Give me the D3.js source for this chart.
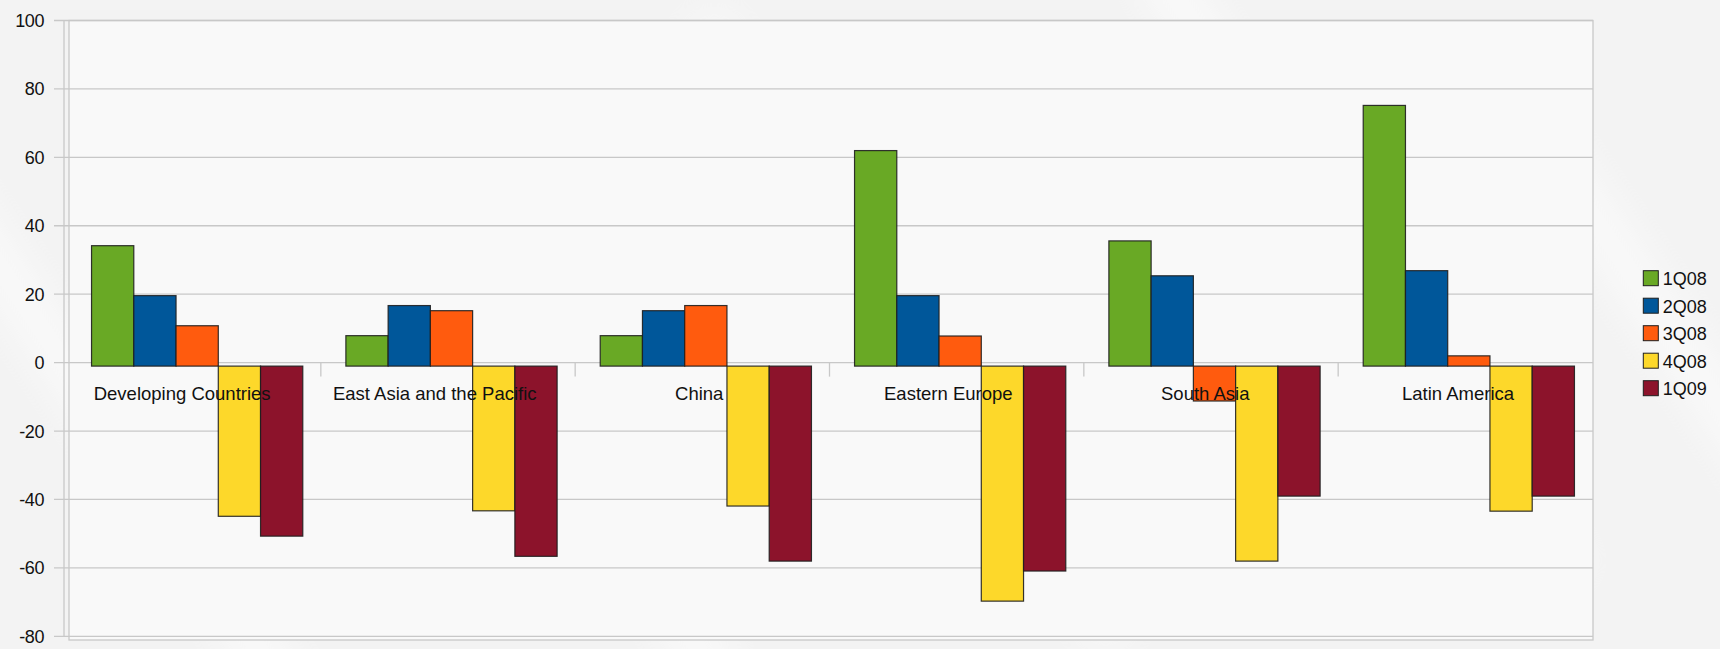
<!DOCTYPE html>
<html>
<head>
<meta charset="utf-8">
<script src="https://cdn.jsdelivr.net/npm/d3@7"></script>
<style>
    html, body { margin: 0; padding: 0; background: #f3f3f3; }
    svg { display: block; font-family: "Liberation Sans", Arial, sans-serif; }
</style>
</head>
<body>
<div id="chart"></div>
<script>
const categories = ['Developing Countries', 'East Asia and the Pacific', 'China', 'Eastern Europe', 'South Asia', 'Latin America'];
const series = ['1Q08', '2Q08', '3Q08', '4Q08', '1Q09'];
const q1_08 = [35.2, 8.9, 8.9, 63.0, 36.6, 76.2];
const q2_08 = [20.6, 17.7, 16.2, 20.6, 26.4, 27.9];
const q3_08 = [11.8, 16.2, 17.7, 8.8, -10.2, 3.0];
const q4_08 = [-43.9, -42.3, -40.9, -68.7, -57.0, -42.4];
const q1_09 = [-49.7, -55.6, -57.0, -59.9, -38.0, -38.0];
const yTicks = [100, 80, 60, 40, 20, 0, -20, -40, -60, -80];
const colors = ['#69a925', '#00579a', '#ff5b0e', '#fdd82a', '#8c132b'];

const values = [q1_08, q2_08, q3_08, q4_08, q1_09];
const data = categories.map((c, i) => ({
    category: c,
    vals: series.map((s, j) => ({ key: s, value: values[j][i] }))
}));

const width = 1720;
const height = 649;
const depth = 3.5; // the chart wall sits a little off the axes

const svg = d3.select('#chart').append('svg')
    .attr('width', width)
    .attr('height', height);

// soft streaks in the background
svg.append('defs').append('filter')
    .attr('id', 'soft')
    .attr('x', '-50%').attr('y', '-50%').attr('width', '200%').attr('height', '200%')
    .append('feGaussianBlur')
    .attr('stdDeviation', 18);

const streaks = svg.append('g').attr('opacity', 0.5).attr('filter', 'url(#soft)');
[[-100, 120], [300, 60], [700, 20], [1150, -40], [1500, 80]].forEach(([sx, sy]) => {
    streaks.append('path')
        .attr('d', `M${sx},${sy} L${sx + 420},${sy + 620}`)
        .attr('stroke', '#ffffff')
        .attr('stroke-width', 50)
        .attr('fill', 'none');
});

const x0 = d3.scaleBand()
    .domain(categories)
    .range([66.5, 1592.5]);

const x1 = d3.scaleBand()
    .domain(series)
    .range([0, x0.bandwidth()])
    .paddingOuter(0.51);

const y = d3.scaleLinear()
    .domain([-80, 100])
    .range([636.3, 20.5]);

const color = d3.scaleOrdinal().domain(series).range(colors);

// wall
svg.append('rect')
    .attr('x', 69)
    .attr('y', y(100))
    .attr('width', 1593 - 69)
    .attr('height', 640 - y(100))
    .attr('fill', '#f9f9f9')
    .attr('fill-opacity', 0.85)
    .attr('stroke', '#c8c8c8')
    .attr('stroke-width', 1.3);

// grid lines
svg.append('g')
    .selectAll('line')
    .data(yTicks)
    .enter().append('line')
    .attr('x1', 54)
    .attr('x2', 1593)
    .attr('y1', d => y(d))
    .attr('y2', d => y(d))
    .attr('stroke', '#c8c8c8')
    .attr('stroke-width', 1.3);

// y axis line
svg.append('line')
    .attr('x1', 64).attr('x2', 64)
    .attr('y1', y(100)).attr('y2', y(-80))
    .attr('stroke', '#c8c8c8')
    .attr('stroke-width', 1.3);

// y tick labels
svg.append('g')
    .selectAll('text')
    .data(yTicks)
    .enter().append('text')
    .attr('x', 44)
    .attr('y', d => y(d))
    .attr('dy', '0.36em')
    .attr('text-anchor', 'end')
    .attr('font-size', 18)
    .attr('letter-spacing', -0.4)
    .attr('fill', '#111')
    .text(d => d);

// category ticks on the zero line
svg.append('g')
    .selectAll('line')
    .data(categories.slice(1))
    .enter().append('line')
    .attr('x1', d => x0(d))
    .attr('x2', d => x0(d))
    .attr('y1', y(0))
    .attr('y2', y(0) + 14)
    .attr('stroke', '#c8c8c8')
    .attr('stroke-width', 1.3);

// bars
const groups = svg.append('g')
    .attr('transform', `translate(${depth},${depth})`)
    .selectAll('g')
    .data(data)
    .enter().append('g')
    .attr('transform', d => `translate(${x0(d.category)},0)`);

groups.selectAll('rect')
    .data(d => d.vals)
    .enter().append('rect')
    .attr('x', d => x1(d.key))
    .attr('y', d => y(Math.max(0, d.value)))
    .attr('width', x1.bandwidth())
    .attr('height', d => Math.abs(y(d.value) - y(0)))
    .attr('fill', d => color(d.key))
    .attr('stroke', '#1e1e1e')
    .attr('stroke-opacity', 0.9)
    .attr('stroke-width', 1.2);

// category labels, drawn over the bars
const labels = svg.append('g')
    .selectAll('text')
    .data(categories)
    .enter().append('text')
    .attr('y', 400)
    .attr('text-anchor', 'middle')
    .attr('font-size', 18.5)
    .attr('fill', '#111')
    .text(d => d);

labels.attr('x', function (d) {
    const len = this.getComputedTextLength();
    return x0(d) + x0.bandwidth() / 2 - len * 0.065;
});

// legend
const legend = svg.append('g')
    .selectAll('g')
    .data(series)
    .enter().append('g')
    .attr('transform', (d, i) => `translate(1643.3,${270.7 + i * 27.5})`);

legend.append('rect')
    .attr('width', 15)
    .attr('height', 15)
    .attr('fill', d => color(d))
    .attr('stroke', '#1e1e1e')
    .attr('stroke-width', 1);

legend.append('text')
    .attr('x', 19.5)
    .attr('y', 14.5)
    .attr('font-size', 18)
    .attr('fill', '#111')
    .text(d => d);
</script>
</body>
</html>
